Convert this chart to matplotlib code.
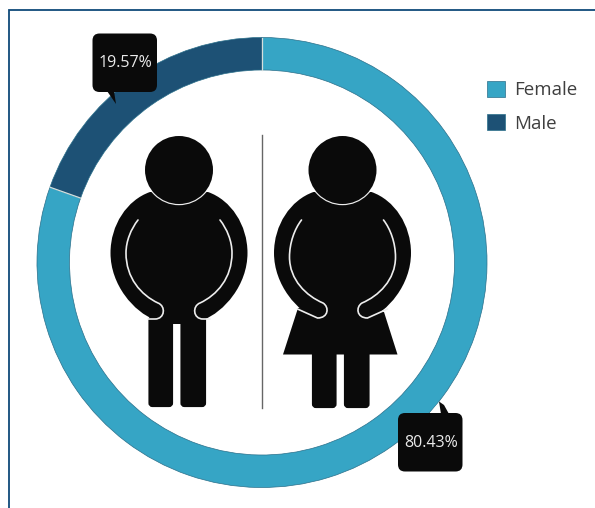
import matplotlib
matplotlib.use("Agg")
import numpy as np
import matplotlib.pyplot as plt
from matplotlib.patches import Circle, FancyBboxPatch, PathPatch, Polygon
from matplotlib.path import Path

plt.rcParams["font.family"] = ["Open Sans", "DejaVu Sans"]

# Share of each group
categories = ["Female", "Male"]
shares = [80.43, 19.57]

FEMALE_BLUE = "#36A5C5"
MALE_BLUE = "#1D5175"
BLACK = "#0A0A0A"

# Axes run in pixels, y pointing down
fig = plt.figure(figsize=(5.95, 5.08), dpi=100)
ax = fig.add_axes([0, 0, 1, 1])

wedges, _ = ax.pie(
    shares, colors=[FEMALE_BLUE, MALE_BLUE], startangle=-90, counterclock=True,
    center=(262, 262.5), radius=225,
    wedgeprops=dict(width=32.5, edgecolor="#2A6F8A", linewidth=0.5),
)
ax.set_xlim(0, 595)
ax.set_ylim(508, 0)
ax.set_aspect("equal")
ax.axis("off")

# Thin light seams where the two segments meet
for w in wedges:
    a = np.deg2rad(w.theta1)
    ax.plot([262 + 192.5 * np.cos(a), 262 + 225 * np.cos(a)],
            [262.5 + 192.5 * np.sin(a), 262.5 + 225 * np.sin(a)],
            color="#D5DEDC", lw=0.9, zorder=3)

# Page frame, open at right and bottom
ax.plot([8.5, 8.5, 595], [508, 9.5, 9.5], color="#0F4A7A", lw=1.3, zorder=1,
        solid_joinstyle="miter")

# Divider
ax.plot([261.7, 261.7], [135, 408], color="#666666", lw=1.0, zorder=3)


def arm_line(cx, side, pts):
    verts = [(cx + side * x, y) for x, y in pts]
    codes = [Path.MOVETO] + [Path.CURVE4] * 9 + [Path.LINETO]
    ax.add_patch(PathPatch(Path(verts, codes), fill=False, edgecolor="#EDEDED",
                           lw=1.2, capstyle="round", zorder=7))


def person(cx, leg_bottom, hook):
    # torso and arms as one outline, left half then right half
    half = [(-29, 192), (-52, 200), (-68.5, 225), (-68.5, 253),
            (-68.5, 285), (-45, 312), (-24, 320)]
    verts = [(cx + x, y) for x, y in half]
    verts += [(cx - 24, 324), (cx + 24, 324)]
    verts += [(cx - x, y) for x, y in reversed(half)]
    verts.append(verts[0])
    codes = ([Path.MOVETO] + [Path.CURVE4] * 6 + [Path.LINETO] * 3
             + [Path.CURVE4] * 6 + [Path.LINETO])
    body = PathPatch(Path(verts, codes), facecolor=BLACK, edgecolor="none", zorder=4)
    ax.add_patch(body)

    # legs
    for x0, x1 in [(-30.5, -6), (1.5, 27)]:
        ax.add_patch(FancyBboxPatch((cx + x0 + 2, 318), x1 - x0 - 4, leg_bottom - 320,
                                    boxstyle="round,pad=0,rounding_size=2", mutation_aspect=1,
                                    facecolor=BLACK, edgecolor=BLACK, lw=3, zorder=4))
    ax.add_patch(Polygon([(cx - 30.5, 318), (cx + 27, 318), (cx + 27, 323), (cx + 1.5, 323),
                          (cx + 1.5, 324), (cx - 6, 324), (cx - 6, 323), (cx - 30.5, 323)],
                         facecolor=BLACK, edgecolor="none", zorder=4))

    arm_line(cx, -1, hook)
    arm_line(cx, 1, hook)

    # head; its white rim only shows where it sits on the shoulders
    rim = Circle((cx, 170), 35.2, facecolor="#EDEDED", edgecolor="none", zorder=5)
    ax.add_patch(rim)
    rim.set_clip_path(body)
    ax.add_patch(Circle((cx, 170), 34, facecolor=BLACK, edgecolor="none", zorder=6))


male_hook = [(41, 220), (48, 229), (53, 241), (53, 253),
             (53, 278), (38, 295), (21, 303),
             (13, 306), (14, 319), (24, 319), (31, 319)]
female_hook = [(41, 220), (48, 229), (53, 243), (53, 257),
               (53, 280), (36, 296), (19.5, 303),
               (13, 307), (14, 318), (25, 318), (45, 309)]

# Skirt goes under the arms
ax.add_patch(Polygon([(298, 308), (283, 354.5), (397.5, 354.5), (384, 312)],
                     facecolor=BLACK, edgecolor="none", zorder=4))
person(179, 407, male_hook)
person(342.5, 408, female_hook)


def callout(x, y, w, h, tail, label):
    ax.add_patch(Polygon(tail, facecolor=BLACK, edgecolor="none", zorder=8))
    ax.add_patch(FancyBboxPatch((x + 6, y + 6), w - 12, h - 12,
                                boxstyle="round,pad=6,rounding_size=7", mutation_aspect=1,
                                facecolor=BLACK, edgecolor="none", zorder=8))
    ax.text(x + w / 2 + 0.5, y + h / 2 + 0.5, label, color="#EAEAEA", fontsize=11.5,
            ha="center", va="center", zorder=9)


callout(92.5, 33.5, 64.5, 58.5, [(107, 91), (116, 104), (114, 91)], f"{shares[1]:.2f}%")

# White sliver left of the lower pointer, cut out of the ring
ax.add_patch(Polygon([(429, 414), (439, 402), (442, 414)], facecolor="white",
                     edgecolor="none", zorder=7))
callout(398, 413, 64.5, 58.5, [(441, 414), (439, 401.5), (444, 405), (449, 414)],
        f"{shares[0]:.2f}%")

ax.legend(wedges, categories, loc="upper left", bbox_to_anchor=(481 / 595, 1 - 75 / 508),
          frameon=False, fontsize=13.5, labelcolor="#3F3F3F", handlelength=0.99,
          handleheight=0.99, handletextpad=0.48, labelspacing=0.77, borderpad=0.3,
          borderaxespad=0)

fig.savefig("out.png", dpi=100, facecolor="white")
